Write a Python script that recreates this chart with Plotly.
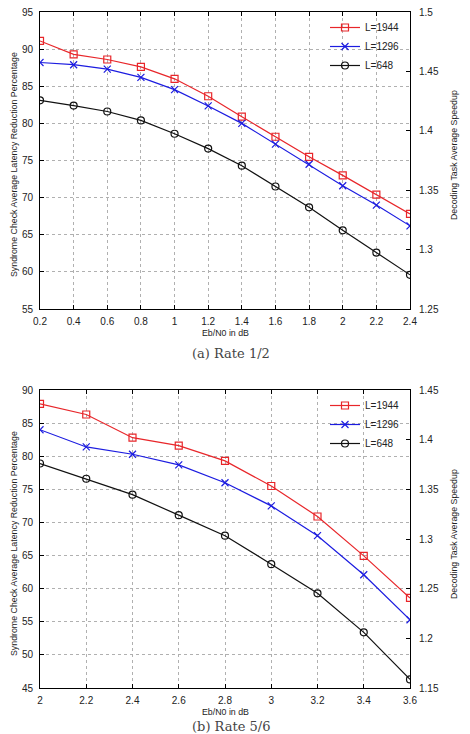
import plotly.graph_objects as go

# Rate 1/2
x_a = [0.2, 0.4, 0.6, 0.8, 1.0, 1.2, 1.4, 1.6, 1.8, 2.0, 2.2, 2.4]
a_1944 = [91.1, 89.3, 88.6, 87.6, 86.0, 83.65, 80.9, 78.2, 75.5, 73.0, 70.4, 67.8]
a_1296 = [88.2, 87.9, 87.3, 86.2, 84.55, 82.35, 80.0, 77.2, 74.5, 71.6, 69.0, 66.2]
a_648 = [83.1, 82.4, 81.6, 80.4, 78.6, 76.6, 74.3, 71.5, 68.7, 65.6, 62.6, 59.6]
right_ticks_a = [1.25, 1.3, 1.35, 1.4, 1.45, 1.5]

# Rate 5/6
x_b = [2.0, 2.2, 2.4, 2.6, 2.8, 3.0, 3.2, 3.4, 3.6]
b_1944 = [87.9, 86.3, 82.8, 81.6, 79.3, 75.5, 70.9, 64.95, 58.6]
b_1296 = [84.0, 81.4, 80.3, 78.7, 76.0, 72.5, 68.0, 62.1, 55.3]
b_648 = [78.9, 76.6, 74.2, 71.1, 68.0, 63.7, 59.3, 53.4, 46.3]
right_ticks_b = [1.15, 1.2, 1.25, 1.3, 1.35, 1.4, 1.45]

series_names = ["L=1944", "L=1296", "L=648"]
colors = ["#e8262a", "#1c1ce0", "#111111"]
symbols = ["square-open", "x-thin-open", "circle-open"]

# page has an 8px body margin; the figure is sized to fit the window
OFF = 8
W, H = 470 - OFF, 734 - OFF
def px(x):
    return (x - OFF) / W
def py(y):
    return 1 - (y - OFF) / H

fig = go.Figure()

for i, (name, ya) in enumerate(zip(series_names, [a_1944, a_1296, a_648])):
    fig.add_trace(go.Scatter(
        x=x_a, y=ya, name=name, mode="lines+markers",
        line=dict(color=colors[i], width=1.2),
        marker=dict(symbol=symbols[i], size=7, color=colors[i],
                    line=dict(color=colors[i], width=1.2)),
        xaxis="x", yaxis="y", legend="legend"))
for i, (name, yb) in enumerate(zip(series_names, [b_1944, b_1296, b_648])):
    fig.add_trace(go.Scatter(
        x=x_b, y=yb, name=name, mode="lines+markers",
        line=dict(color=colors[i], width=1.2),
        marker=dict(symbol=symbols[i], size=7, color=colors[i],
                    line=dict(color=colors[i], width=1.2)),
        xaxis="x2", yaxis="y3", legend="legend2"))

# invisible traces so the right axes render
fig.add_trace(go.Scatter(x=[x_a[0]], y=[1.3], yaxis="y2", xaxis="x",
                         mode="markers", marker=dict(opacity=0), showlegend=False, hoverinfo="skip"))
fig.add_trace(go.Scatter(x=[x_b[0]], y=[1.3], yaxis="y4", xaxis="x2",
                         mode="markers", marker=dict(opacity=0), showlegend=False, hoverinfo="skip"))

tickfont = dict(family="Liberation Sans, Arial, sans-serif", size=10, color="#222")
xdom = [px(40), px(410)]
ydom_a = [py(309), py(12)]
ydom_b = [py(688), py(390)]

common_x = dict(showline=True, linecolor="black", linewidth=1, mirror="ticks",
                ticks="inside", ticklen=4, tickcolor="black", automargin=False,
                ticklabelstandoff=3, ticklabeloverflow="allow",
                showgrid=True, gridcolor="#b0b0b0", griddash="dot", gridwidth=1,
                zeroline=False, tickfont=tickfont, dtick=0.2)
common_y = dict(showline=True, linecolor="black", linewidth=1,
                ticks="inside", ticklen=4, tickcolor="black", automargin=False,
                ticklabelstandoff=4, ticklabeloverflow="allow",
                showgrid=True, gridcolor="#b0b0b0", griddash="dot", gridwidth=1,
                zeroline=False, tickfont=tickfont, dtick=5)
right_y = dict(showline=True, linecolor="black", linewidth=1, side="right",
               ticks="inside", ticklen=4, tickcolor="black", automargin=False,
               ticklabelstandoff=6, tickmode="array", ticklabeloverflow="allow",
               showgrid=False, zeroline=False, tickfont=tickfont)

legend_common = dict(font=dict(family="Liberation Sans, Arial, sans-serif", size=10, color="#222"),
                     bgcolor="rgba(255,255,255,0)", xanchor="right", yanchor="top",
                     tracegroupgap=0, itemwidth=30)

fig.update_layout(
    width=W, height=H,
    margin=dict(l=0, r=0, t=0, b=0, autoexpand=False),
    paper_bgcolor="white", plot_bgcolor="white",
    showlegend=True,
    xaxis=dict(domain=xdom, range=[0.2, 2.4], anchor="y", **common_x),
    yaxis=dict(domain=ydom_a, range=[55, 95], anchor="x", **common_y),
    yaxis2=dict(range=[1.25, 1.5], overlaying="y", anchor="x",
                tickvals=right_ticks_a, ticktext=[f"{v:g}" for v in right_ticks_a], **right_y),
    xaxis2=dict(domain=xdom, range=[2.0, 3.6], anchor="y3", **common_x),
    yaxis3=dict(domain=ydom_b, range=[45, 90], anchor="x2", **common_y),
    yaxis4=dict(range=[1.15, 1.45], overlaying="y3", anchor="x2",
                tickvals=right_ticks_b, ticktext=[f"{v:g}" for v in right_ticks_b], **right_y),
    legend=dict(x=px(405), y=py(13), **legend_common),
    legend2=dict(x=px(405), y=py(391), **legend_common),
)

lab = dict(family="Liberation Sans, Arial, sans-serif", size=8.8, color="#222")
cap = dict(family="DejaVu Serif, Liberation Serif, serif", size=13, color="#444")
ann = []
for (ltitle_y, rtitle_y, xt_y, cap_y, cap_txt) in [
        (165, 155, 333, 353, "(a) Rate 1/2"),
        (544, 534, 712, 726, "(b) Rate 5/6")]:
    ann.append(dict(text="Syndrome Check Average Latency Reduction Percentage",
                    x=px(14), y=py(ltitle_y), xref="paper", yref="paper", textangle=-90,
                    showarrow=False, font=lab, xanchor="center", yanchor="middle"))
    ann.append(dict(text="Decoding Task Average Speedup",
                    x=px(454), y=py(rtitle_y), xref="paper", yref="paper", textangle=-90,
                    showarrow=False, font=lab, xanchor="center", yanchor="middle"))
    ann.append(dict(text="Eb/N0 in dB", x=px(225), y=py(xt_y), xref="paper", yref="paper",
                    showarrow=False, font=lab, xanchor="center", yanchor="middle"))
    ann.append(dict(text=cap_txt, x=px(231), y=py(cap_y), xref="paper", yref="paper",
                    showarrow=False, font=cap, xanchor="center", yanchor="middle"))
fig.update_layout(annotations=ann)

fig.write_html("out.html")
